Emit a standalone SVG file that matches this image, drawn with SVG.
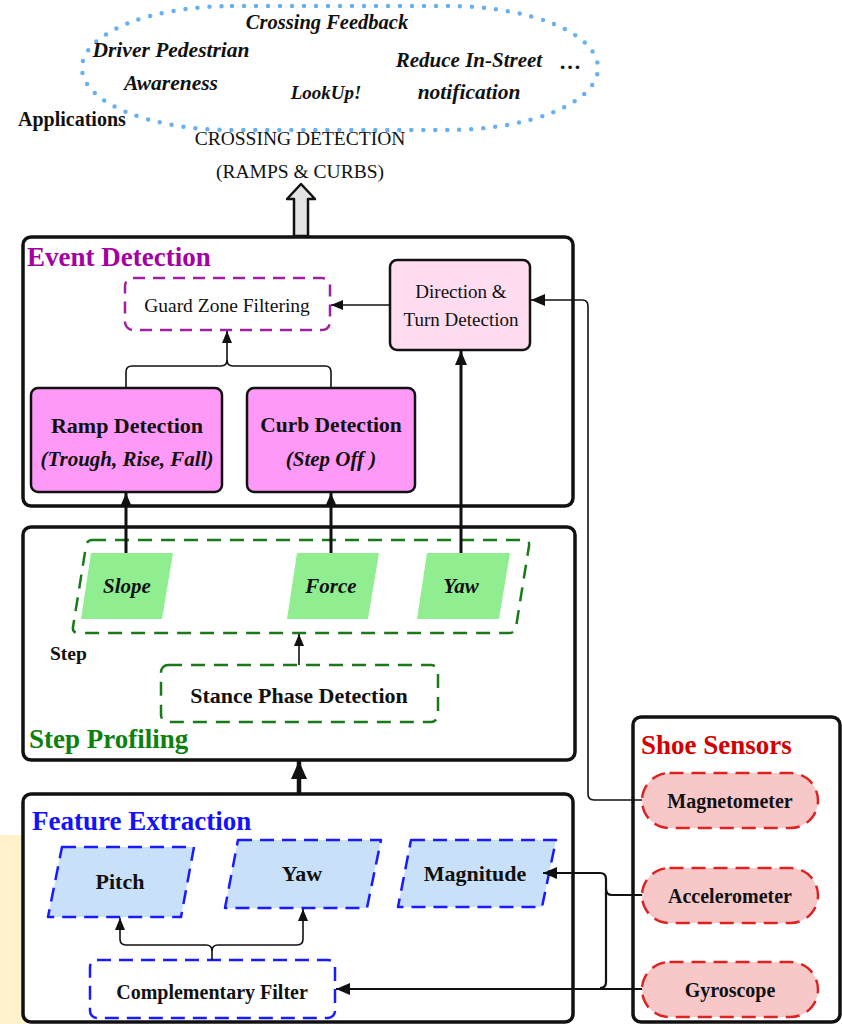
<svg xmlns="http://www.w3.org/2000/svg" width="842" height="1024" viewBox="0 0 842 1024">
<defs>
<style>
text{font-family:"Liberation Serif","DejaVu Serif",serif;fill:#111;}
.c{text-anchor:middle;dominant-baseline:central;}
.b{font-weight:bold;}
.i{font-style:italic;}
.frame{fill:#fff;stroke:#111;stroke-width:3.5;}
.title{font-weight:bold;font-size:27px;}
.ln{fill:none;stroke:#111;stroke-width:1.6;}
.lnk{fill:none;stroke:#111;stroke-width:3;}
.gdash{fill:none;stroke:#1a7a1a;stroke-width:2.5;stroke-dasharray:14 9;}
.bdash{fill:#c8e0f8;stroke:#1a1aff;stroke-width:2.5;stroke-dasharray:14 8;stroke-linejoin:round;}
.rpill{fill:#f8c8c8;stroke:#dd2222;stroke-width:2.5;stroke-dasharray:14 8;}
.green{fill:#90ee90;}
.mag{fill:#ff99f8;stroke:#111;stroke-width:2.5;}
</style>
<marker id="ah" viewBox="0 0 12 10" refX="12" refY="5" markerWidth="12" markerHeight="10" markerUnits="userSpaceOnUse" orient="auto"><path d="M0,0 L12,5 L0,10 Z" fill="#111"/></marker>
<marker id="ahb" viewBox="0 0 14 12" refX="14" refY="6" markerWidth="14" markerHeight="12" markerUnits="userSpaceOnUse" orient="auto"><path d="M0,0 L14,6 L0,12 Z" fill="#111"/></marker>
<marker id="ahx" viewBox="0 0 18 16" refX="18" refY="8" markerWidth="18" markerHeight="16" markerUnits="userSpaceOnUse" orient="auto"><path d="M0,0 L18,8 L0,16 Z" fill="#111"/></marker>
</defs>

<!-- background strip -->
<rect x="0" y="835" width="26" height="189" fill="#fff2cc"/>

<!-- Applications cloud -->
<g id="applications">
<rect x="82" y="6" width="516" height="124" rx="150" ry="62" fill="none" stroke="#6ab0f0" stroke-width="4.5" stroke-dasharray="0 12" stroke-linecap="round"/>
<text class="c b i" x="327" y="22" font-size="20.5">Crossing Feedback</text>
<text class="c b i" x="171" y="50" font-size="21.5">Driver Pedestrian</text>
<text class="c b i" x="171" y="83" font-size="21.5">Awareness</text>
<text class="c b i" x="326" y="92" font-size="19">LookUp!</text>
<text class="c b i" x="469" y="60" font-size="21">Reduce In-Street</text>
<text class="c b i" x="469" y="92" font-size="21.5">notification</text>
<text class="c b" x="570" y="61" font-size="22">…</text>
<text class="b" x="18" y="126" font-size="20">Applications</text>
</g>

<g id="crossing-label">
<text class="c" x="300" y="138" font-size="19.5">CROSSING DETECTION</text>
<text class="c" x="300" y="171" font-size="19.5">(RAMPS &amp; CURBS)</text>
<path d="M301,184 L315,199 L308,199 L308,236 L294,236 L294,199 L287,199 Z" fill="#e4e4e4" stroke="#111" stroke-width="2.5" stroke-linejoin="round"/>
</g>

<!-- Event Detection -->
<g id="event-detection">
<rect class="frame" x="23" y="237" width="550" height="269" rx="8"/>
<text class="title" x="27" y="266" style="fill:#a400a4">Event Detection</text>
</g>
<g id="guard-zone">
<rect x="125" y="278" width="205" height="52" rx="8" fill="#fff" stroke="#a020a0" stroke-width="2.5" stroke-dasharray="12 8"/>
<text class="c" x="227" y="305" font-size="19.5">Guard Zone Filtering</text>
</g>
<g id="direction">
<rect x="390" y="260" width="140" height="90" rx="7" fill="#ffdcef" stroke="#111" stroke-width="2.5"/>
<text class="c" x="461" y="291" font-size="19">Direction &amp;</text>
<text class="c" x="461" y="319" font-size="19">Turn Detection</text>
</g>
<g id="ramp">
<rect class="mag" x="31" y="388" width="191" height="104" rx="7"/>
<text class="c b" x="127" y="425" font-size="22">Ramp Detection</text>
<text class="c b i" x="127" y="459" font-size="21">(Trough, Rise, Fall)</text>
</g>
<g id="curb">
<rect class="mag" x="247" y="388" width="168" height="104" rx="7"/>
<text class="c b" x="331" y="425" font-size="21.5">Curb Detection</text>
<text class="c b i" x="331" y="459" font-size="21">(Step Off )</text>
</g>

<!-- Step Profiling -->
<g id="step-profiling">
<rect class="frame" x="23" y="527" width="552" height="233" rx="8"/>
<text class="title" x="29" y="748" style="fill:#0e800e">Step Profiling</text>
<path class="gdash" d="M92,540 L524,540 Q530,540 529,546 L516,627 Q515,633 509,633 L79,633 Q72,633 73,627 L86,546 Q87,540 92,540 Z"/>
<text class="b" x="50" y="660" font-size="19.5">Step</text>
</g>
<g id="slope">
<polygon class="green" points="91,553 173,553 162,619 81,619"/>
<text class="c b i" x="127" y="586" font-size="21">Slope</text>
</g>
<g id="force">
<polygon class="green" points="297,553 379,553 368,619 287,619"/>
<text class="c b i" x="331" y="586" font-size="21">Force</text>
</g>
<g id="yaw-step">
<polygon class="green" points="427,553 510,553 499,619 417,619"/>
<text class="c b i" x="461" y="586" font-size="21">Yaw</text>
</g>
<g id="stance">
<rect class="gdash" x="161" y="665" width="277" height="57" rx="7"/>
<text class="c b" x="299" y="695" font-size="22">Stance Phase Detection</text>
</g>

<!-- Feature Extraction -->
<g id="feature-extraction">
<rect class="frame" x="23" y="794" width="550" height="228" rx="8"/>
<text class="title" x="32" y="830" style="fill:#1212ff">Feature Extraction</text>
</g>
<g id="pitch">
<polygon class="bdash" points="62,847 194,847 181,917 48,917"/>
<text class="c b" x="120" y="881" font-size="22">Pitch</text>
</g>
<g id="yaw-feat">
<polygon class="bdash" points="238,840 381,840 367,908 225,908"/>
<text class="c b" x="302" y="873" font-size="22">Yaw</text>
</g>
<g id="magnitude">
<polygon class="bdash" points="411,840 556,840 542,907 398,907"/>
<text class="c b" x="475" y="873" font-size="22">Magnitude</text>
</g>
<g id="comp-filter">
<rect x="90" y="960" width="245" height="58" rx="7" fill="#fff" stroke="#1a1aff" stroke-width="2.5" stroke-dasharray="14 8"/>
<text class="c b" x="212" y="992" font-size="20">Complementary Filter</text>
</g>

<!-- Shoe Sensors -->
<g id="shoe-sensors">
<rect class="frame" x="633" y="717" width="207" height="305" rx="8"/>
<text class="title" x="641" y="754" style="fill:#d40000">Shoe Sensors</text>
</g>
<g id="magnetometer">
<rect class="rpill" x="642" y="773" width="176" height="55" rx="27.5"/>
<text class="c b" x="730" y="801" font-size="20">Magnetometer</text>
</g>
<g id="accelerometer">
<rect class="rpill" x="642" y="868" width="176" height="55" rx="27.5"/>
<text class="c b" x="730" y="896" font-size="20">Accelerometer</text>
</g>
<g id="gyroscope">
<rect class="rpill" x="642" y="962" width="176" height="55" rx="27.5"/>
<text class="c b" x="730" y="990" font-size="20">Gyroscope</text>
</g>

<!-- Connectors -->
<g id="connectors">
<path class="ln" d="M390,305 H331" marker-end="url(#ah)"/>
<path class="ln" d="M126,388 V372 Q126,366 132,366 H221 Q227,366 227,360 V331" marker-end="url(#ah)"/>
<path class="ln" d="M331,388 V372 Q331,366 325,366 H233 Q227,366 227,360"/>
<path class="lnk" d="M126,553 V493" marker-end="url(#ahb)"/>
<path class="lnk" d="M331,553 V493" marker-end="url(#ahb)"/>
<path class="lnk" d="M461,553 V351" marker-end="url(#ahb)"/>
<path class="ln" d="M642,800 H594 Q588,800 588,794 V306 Q588,300 582,300 H531" marker-end="url(#ahb)"/>
<path class="ln" d="M299,665 V634" marker-end="url(#ah)"/>
<path d="M299,794 V761" fill="none" stroke="#111" stroke-width="4.5" marker-end="url(#ahx)"/>
<path class="ln" d="M212,960 V951 Q212,945 206,945 H126 Q120,945 120,939 V918" marker-end="url(#ah)"/>
<path class="ln" d="M212,951 Q212,945 218,945 H297 Q303,945 303,939 V909" marker-end="url(#ah)"/>
<path class="lnk" style="stroke-width:2.2" d="M642,895 H612 Q606,895 606,889 V879 Q606,873 600,873 H543" marker-end="url(#ahb)"/>
<path class="lnk" style="stroke-width:2.2" d="M606,889 V982 Q606,988 600,988"/>
<path class="lnk" style="stroke-width:2.2" d="M642,989 H336" marker-end="url(#ahb)"/>
</g>
</svg>
